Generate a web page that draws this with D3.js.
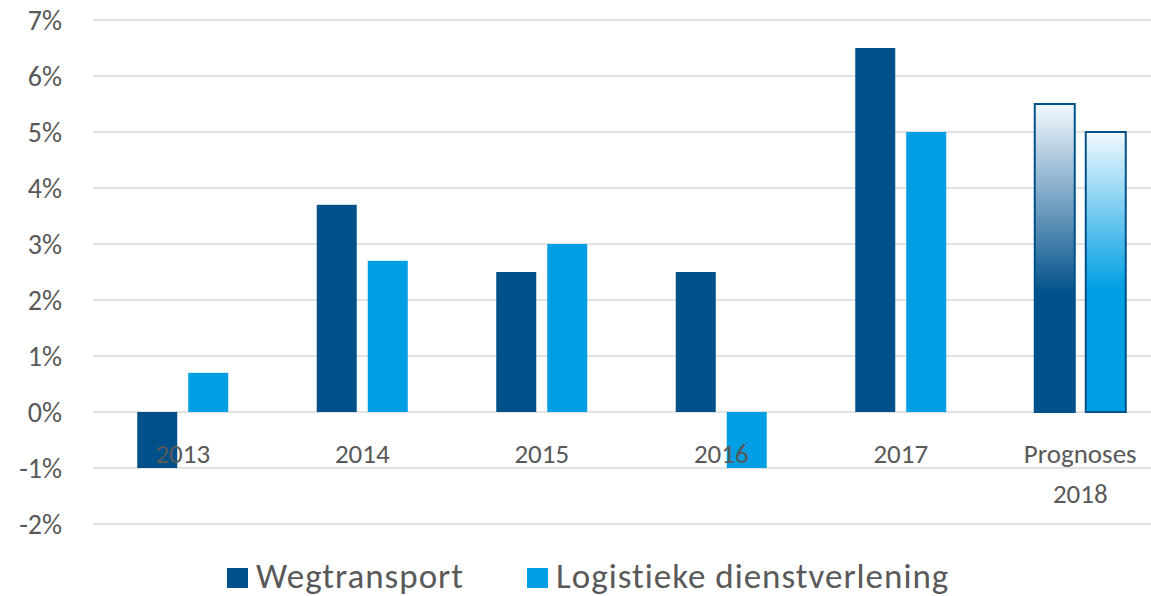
<!DOCTYPE html>
<html>
<head>
<meta charset="utf-8">
<script src="https://cdn.jsdelivr.net/npm/d3@7"></script>
<style>
  body { margin: 0; background: #fff; }
  svg { display: block; font-family: Carlito, Calibri, Lato, sans-serif; }
</style>
</head>
<body>
<svg id="chart"></svg>
<script>
// data
let categories = ["2013", "2014", "2015", "2016", "2017", "Prognoses 2018"]
let wegtransport = [-1.0, 3.7, 2.5, 2.5, 6.5, 5.5]
let logistiek = [0.7, 2.7, 3.0, -1.0, 5.0, 5.0]
let seriesNames = ["Wegtransport", "Logistieke dienstverlening"]
let yTicks = [-2, -1, 0, 1, 2, 3, 4, 5, 6, 7]

let width = 1151
let height = 596
let colors = ["#00508a", "#009fe3"]
let textColor = "#595959"

const svg = d3.select("#chart")
    .attr("width", width)
    .attr("height", height)

let x = d3.scaleBand()
    .domain(categories)
    .range([93, 1170])

let y = d3.scaleLinear()
    .domain([-2, 7])
    .range([524, 20])

// gradients for the forecast bars
let defs = svg.append("defs")
colors.forEach((c, i) => {
    let g = defs.append("linearGradient")
        .attr("id", "grad" + i)
        .attr("x1", 0).attr("y1", 0).attr("x2", 0).attr("y2", 1)
    g.append("stop").attr("offset", 0).attr("stop-color", "#f2f9ff")
    g.append("stop").attr("offset", i == 0 ? 0.62 : 0.56).attr("stop-color", c)
    g.append("stop").attr("offset", 1).attr("stop-color", c)
})

// gridlines
svg.append("g")
    .selectAll("line")
    .data(yTicks)
    .join("line")
    .attr("x1", 93)
    .attr("x2", width)
    .attr("y1", d => y(d))
    .attr("y2", d => y(d))
    .attr("stroke", "#d9d9d9")
    .attr("stroke-width", 1.5)

// y axis labels
svg.append("g")
    .selectAll("text")
    .data(yTicks)
    .join("text")
    .attr("x", 62)
    .attr("y", d => y(d))
    .attr("dy", "0.36em")
    .attr("text-anchor", "end")
    .attr("font-size", 28)
    .attr("fill", textColor)
    .text(d => d + "%")

// bars
let barW = 40
let gap = 11
let series = [wegtransport, logistiek]
let last = categories.length - 1
series.forEach((vals, s) => {
    svg.append("g")
        .selectAll("rect")
        .data(vals)
        .join("rect")
        .attr("x", (d, i) => x(categories[i]) + x.bandwidth() / 2 - gap / 2 - barW + s * (barW + gap))
        .attr("y", d => y(Math.max(0, d)))
        .attr("width", barW)
        .attr("height", d => Math.abs(y(d) - y(0)))
        .attr("fill", (d, i) => i == last ? `url(#grad${s})` : colors[s])
        .attr("stroke", (d, i) => i == last ? "#00508a" : "none")
        .attr("stroke-width", 2)
})

// category labels (drawn over bars)
svg.append("g")
    .selectAll("text")
    .data(categories)
    .join("text")
    .attr("y", 463)
    .attr("text-anchor", "middle")
    .attr("font-size", 27)
    .attr("fill", textColor)
    .each(function(d) {
        let t = d3.select(this)
        d.split(" ").forEach((w, k) => {
            t.append("tspan")
                .attr("x", x(d) + x.bandwidth() / 2)
                .attr("dy", k == 0 ? 0 : 40)
                .text(w)
        })
    })

// legend
let legendX = [227, 527]
seriesNames.forEach((name, i) => {
    svg.append("rect")
        .attr("x", legendX[i])
        .attr("y", 568)
        .attr("width", 21)
        .attr("height", 20)
        .attr("fill", colors[i])
    svg.append("text")
        .attr("x", legendX[i] + 29)
        .attr("y", 588)
        .attr("font-size", 35)
        .attr("letter-spacing", 1)
        .attr("fill", textColor)
        .text(name)
})
</script>
</body>
</html>
